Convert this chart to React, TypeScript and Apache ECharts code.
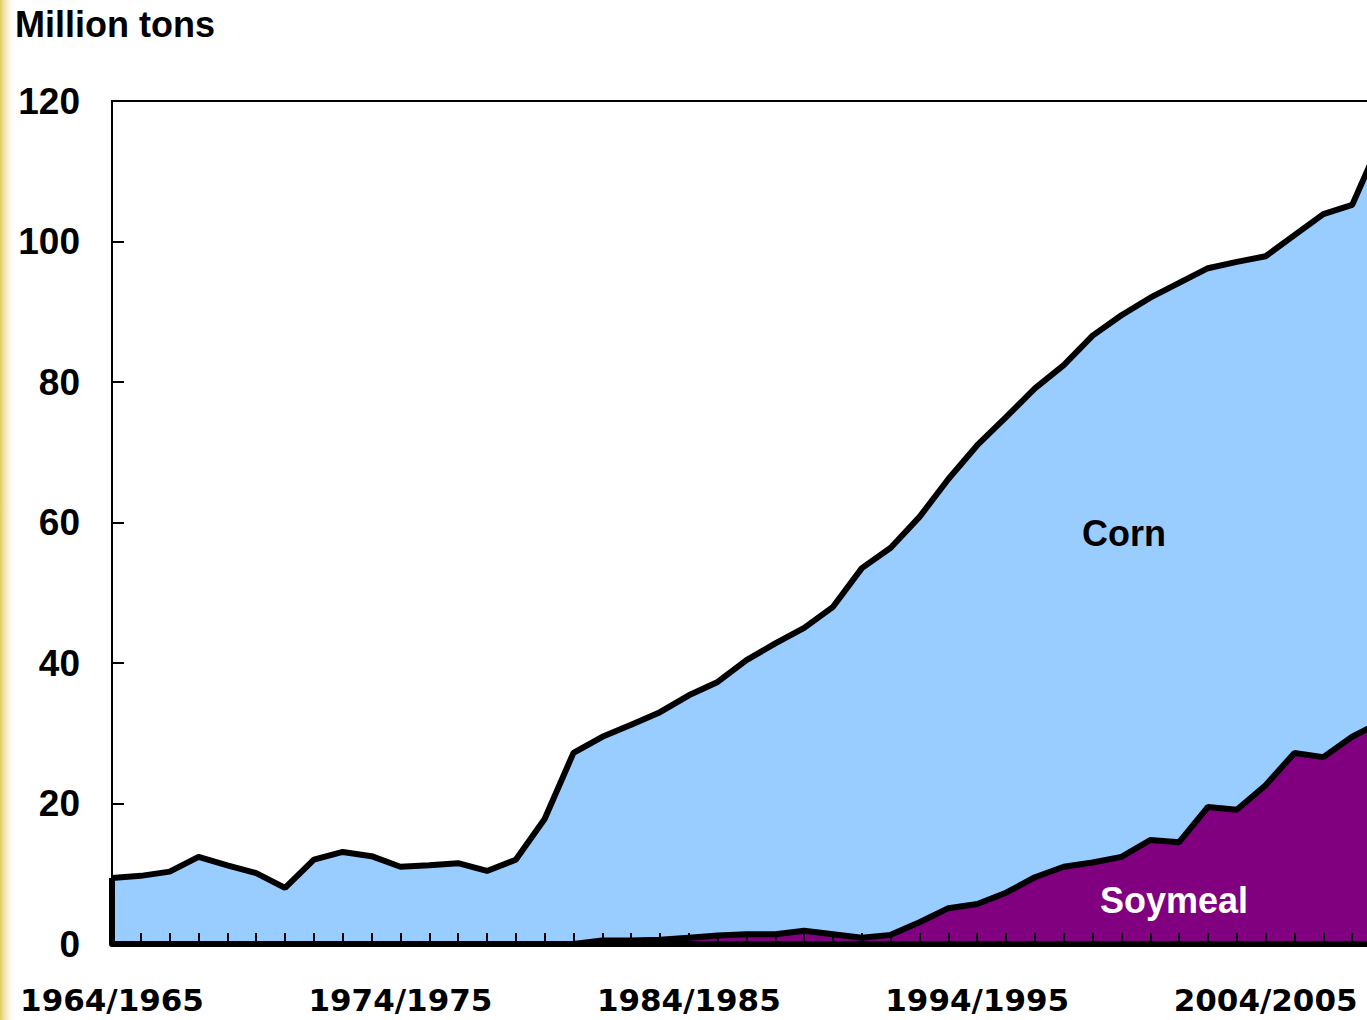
import React, { useEffect, useRef } from "react";
import * as echarts from "echarts";

const seasons = [
  "1964/1965", "1965/1966", "1966/1967", "1967/1968", "1968/1969",
  "1969/1970", "1970/1971", "1971/1972", "1972/1973", "1973/1974",
  "1974/1975", "1975/1976", "1976/1977", "1977/1978", "1978/1979",
  "1979/1980", "1980/1981", "1981/1982", "1982/1983", "1983/1984",
  "1984/1985", "1985/1986", "1986/1987", "1987/1988", "1988/1989",
  "1989/1990", "1990/1991", "1991/1992", "1992/1993", "1993/1994",
  "1994/1995", "1995/1996", "1996/1997", "1997/1998", "1998/1999",
  "1999/2000", "2000/2001", "2001/2002", "2002/2003", "2003/2004",
  "2004/2005", "2005/2006", "2006/2007", "2007/2008", "2008/2009",
];

// Million tons
const soymeal = [
  0, 0, 0, 0, 0, 0, 0, 0, 0, 0,
  0, 0, 0, 0, 0, 0, 0, 0.5, 0.5, 0.6,
  0.9, 1.2, 1.4, 1.4, 1.9, 1.4, 0.9, 1.3, 3.1, 5.1,
  5.7, 7.3, 9.5, 11.0, 11.6, 12.4, 14.8, 14.5, 19.5, 19.1,
  22.6, 27.2, 26.6, 29.5, 31.6,
];

const corn = [
  9.4, 9.7, 10.3, 12.4, 11.2, 10.1, 8.0, 12.0, 13.1, 12.5,
  11.0, 11.2, 11.5, 10.4, 12.0, 17.8, 27.2, 29.0, 30.7, 32.4,
  34.5, 36.1, 39.0, 41.4, 43.1, 46.6, 52.6, 55.1, 57.7, 61.1,
  65.3, 67.7, 69.6, 71.4, 75.0, 77.1, 77.2, 79.6, 76.7, 78.0,
  75.3, 73.7, 77.3, 75.7, 82.9,
];

const yTicks = { min: 0, max: 120, interval: 20 };

const FONT = "'Liberation Sans', Arial, sans-serif";

export default function App() {
  const ref = useRef<HTMLDivElement>(null);

  useEffect(() => {
    if (!ref.current) return;
    const chart = echarts.init(ref.current, null, { renderer: "svg" });
    chart.setOption({
      animation: false,
      backgroundColor: "#ffffff",
      grid: {
        left: 112,
        top: 101,
        bottom: 76,
        right: 0,
        show: true,
        borderColor: "#000000",
        borderWidth: 2,
        backgroundColor: "transparent",
      },
      xAxis: {
        type: "category",
        data: seasons,
        boundaryGap: false,
        z: 10,
        axisLine: { show: true, lineStyle: { color: "#000", width: 6 } },
        axisTick: {
          show: true,
          inside: true,
          length: 11,
          interval: 0,
          lineStyle: { color: "#000", width: 2 },
        },
        axisLabel: {
          interval: 9,
          margin: 40,
          color: "#000",
          fontWeight: "bold",
          fontSize: 31,
          fontFamily: "'DejaVu Sans', sans-serif",
        },
        splitLine: { show: false },
      },
      yAxis: {
        type: "value",
        min: yTicks.min,
        max: yTicks.max,
        interval: yTicks.interval,
        z: 10,
        axisLine: { show: true, lineStyle: { color: "#000", width: 2 } },
        axisTick: {
          show: true,
          inside: true,
          length: 12,
          lineStyle: { color: "#000", width: 2 },
        },
        axisLabel: {
          margin: 32,
          color: "#000",
          fontWeight: "bold",
          fontSize: 37,
          fontFamily: FONT,
        },
        splitLine: { show: false },
      },
      series: [
        {
          name: "Soymeal",
          type: "line",
          stack: "total",
          data: soymeal,
          symbol: "none",
          z: 4,
          lineStyle: { color: "#000", width: 6 },
          areaStyle: { color: "#800080", opacity: 1 },
        },
        {
          name: "Corn",
          type: "line",
          stack: "total",
          data: corn,
          symbol: "none",
          z: 3,
          lineStyle: { color: "#000", width: 6 },
          areaStyle: { color: "#99CCFF", opacity: 1 },
          markLine: {
            silent: true,
            symbol: "none",
            label: { show: false },
            lineStyle: { color: "#000", width: 6, type: "solid" },
            data: [
              [
                { coord: [0, 0] },
                { coord: [0, corn[0] + soymeal[0]] },
              ],
            ],
          },
        },
      ],
      graphic: [
        {
          type: "rect",
          left: 0,
          top: 0,
          shape: { x: 0, y: 0, width: 16, height: 1020 },
          style: {
            fill: new echarts.graphic.LinearGradient(0, 0, 1, 0, [
              { offset: 0, color: "#E2CC5E" },
              { offset: 0.25, color: "#EEE3A4" },
              { offset: 0.6, color: "#FBF8E8" },
              { offset: 1, color: "rgba(255,255,255,0)" },
            ]),
          },
          silent: true,
          z: -1,
        },
        {
          type: "text",
          left: 15,
          top: 6,
          style: {
            text: "Million tons",
            fill: "#000",
            font: `bold 36px ${FONT}`,
          },
        },
        {
          type: "text",
          x: 1124,
          y: 533,
          style: {
            text: "Corn",
            fill: "#000",
            font: `bold 36px ${FONT}`,
            textAlign: "center",
            textVerticalAlign: "middle",
          },
          z: 20,
        },
        {
          type: "text",
          x: 1174,
          y: 900,
          style: {
            text: "Soymeal",
            fill: "#fff",
            font: `bold 36px ${FONT}`,
            textAlign: "center",
            textVerticalAlign: "middle",
          },
          z: 20,
        },
      ],
    });
    return () => chart.dispose();
  }, []);

  return (
    <div
      style={{
        position: "absolute",
        left: 0,
        top: 0,
        width: 1367,
        height: 1020,
        overflow: "hidden",
        background: "#fff",
      }}
    >
      <div ref={ref} style={{ width: 1381, height: 1020 }} />
    </div>
  );
}
